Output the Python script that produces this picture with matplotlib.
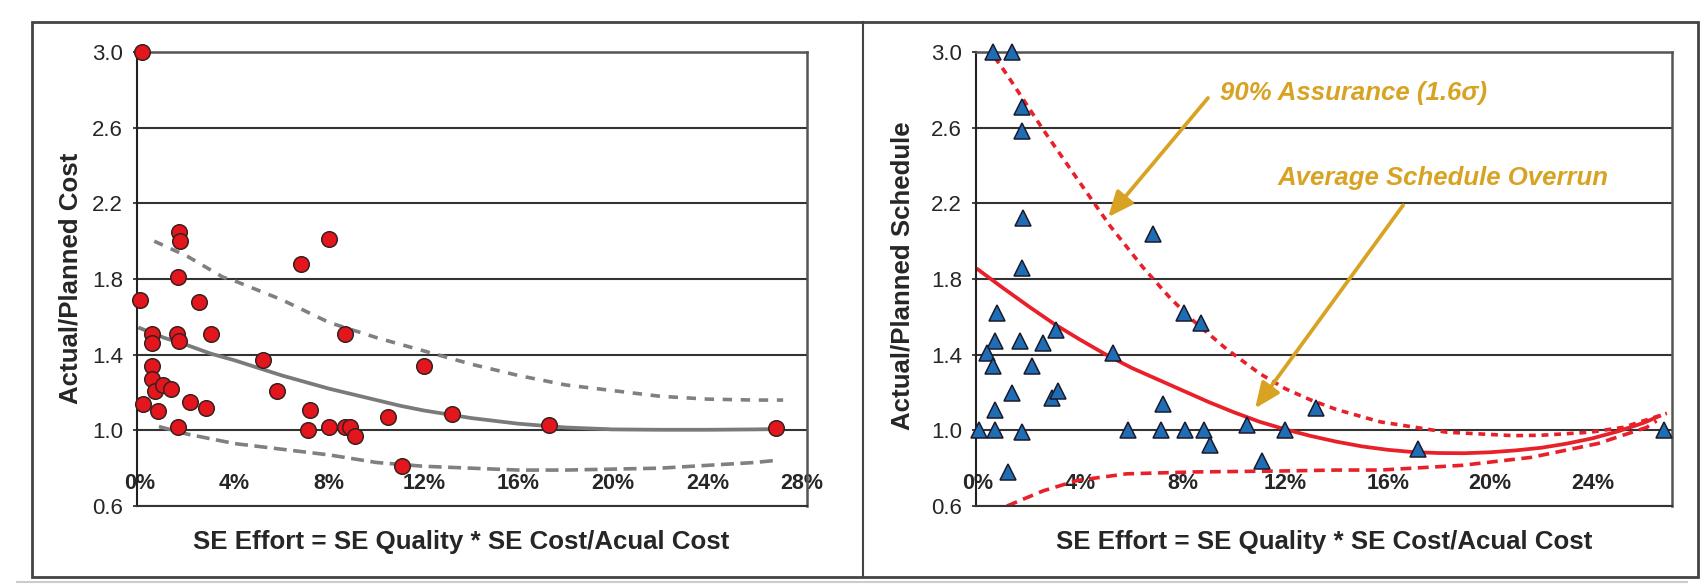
import matplotlib
matplotlib.use("Agg")
import matplotlib.pyplot as plt
from matplotlib.patches import Rectangle
from matplotlib.lines import Line2D

plt.rcParams['font.family'] = ['Liberation Sans', 'DejaVu Sans']

# ---- data (x in % of SE effort) ----
cost_x = [0.1, 1.65, 1.7, 1.6, 6.8, 8.0, 0.0, 2.5, 0.5, 0.5, 1.55, 1.65, 3.0, 8.67,
          5.2, 0.5, 0.5, 0.63, 0.98, 1.3, 0.13, 0.77, 2.1, 2.8, 5.8, 1.6, 7.2, 7.1,
          8.0, 8.67, 8.9, 9.1, 10.5, 11.1, 12.0, 13.2, 17.3, 26.9]
cost_y = [3.0, 2.05, 2.0, 1.81, 1.88, 2.01, 1.69, 1.68, 1.51, 1.46, 1.51, 1.47, 1.51, 1.51,
          1.37, 1.34, 1.27, 1.21, 1.24, 1.22, 1.14, 1.10, 1.15, 1.12, 1.21, 1.02, 1.11, 1.0,
          1.02, 1.02, 1.02, 0.97, 1.07, 0.81, 1.34, 1.085, 1.03, 1.01]

cost_fit_x = [0, 1, 2, 3, 4, 5, 6, 7, 8, 9, 10, 11, 12, 13, 14, 15, 16, 17, 18, 20, 22, 24, 26, 27]
cost_fit_y = [1.54, 1.49, 1.45, 1.405, 1.37, 1.33, 1.29, 1.255, 1.22, 1.19, 1.16, 1.13,
              1.105, 1.085, 1.065, 1.05, 1.035, 1.025, 1.015, 1.005, 1.003, 1.003, 1.005, 1.007]
cost_hi_x = [0.6, 2, 3.5, 4, 6, 8, 10, 12, 14, 16, 18, 20, 22, 24, 26, 27.2]
cost_hi_y = [2.00, 1.92, 1.81, 1.79, 1.69, 1.57, 1.49, 1.42, 1.35, 1.29, 1.24, 1.21, 1.18, 1.165, 1.16, 1.16]
cost_lo_x = [0.8, 2, 4, 6, 8, 10, 12, 14, 16, 18, 20, 22, 24, 26, 26.8]
cost_lo_y = [1.02, 0.98, 0.93, 0.90, 0.87, 0.83, 0.81, 0.80, 0.79, 0.79, 0.795, 0.80, 0.815, 0.83, 0.84]

sched_x = [0.6, 1.33, 1.72, 1.72, 1.75, 6.84, 1.72, 0.73, 0.66, 0.35, 0.6, 0.66, 0.04, 0.66,
           1.17, 1.33, 1.64, 1.72, 2.1, 2.54, 3.05, 2.9, 3.13, 5.27, 5.86, 7.23, 7.15, 8.05,
           8.7, 8.09, 8.83, 9.06, 10.5, 11.1, 12.0, 13.2, 17.2, 26.8]
sched_y = [3.0, 3.0, 2.71, 2.58, 2.12, 2.04, 1.86, 1.62, 1.47, 1.41, 1.34, 1.11, 1.0, 1.0,
           0.78, 1.20, 1.47, 0.99, 1.34, 1.46, 1.53, 1.17, 1.21, 1.41, 1.0, 1.14, 1.0, 1.62,
           1.57, 1.0, 1.0, 0.92, 1.03, 0.84, 1.0, 1.12, 0.90, 1.0]

sched_avg_x = [0, 1, 2, 3, 4, 5, 6, 7, 8, 9, 10, 11, 12, 13, 14, 15, 16, 17, 18, 19, 20,
               21, 22, 23, 24, 25, 26, 26.6]
sched_avg_y = [1.85, 1.75, 1.653, 1.56, 1.478, 1.40, 1.33, 1.27, 1.21, 1.15, 1.095, 1.045,
               1.005, 0.97, 0.94, 0.915, 0.897, 0.885, 0.88, 0.879, 0.884, 0.894, 0.908,
               0.93, 0.958, 0.995, 1.04, 1.075]
sched_hi_x = [0.66, 1.13, 2.54, 3.87, 5.16, 6.45, 7.5, 8.4, 9.7, 11.0, 12.0, 13.0, 14.0,
              15.7, 18.3, 20.9, 22.0, 23.9, 25.2, 26.9]
sched_hi_y = [2.97, 2.88, 2.59, 2.33, 2.08, 1.86, 1.70, 1.58, 1.43, 1.30, 1.22, 1.16, 1.11,
              1.045, 0.99, 0.972, 0.974, 0.99, 1.016, 1.09]
sched_lo_x = [1.13, 2.54, 3.87, 5.8, 8.4, 11.8, 14, 15.7, 18.9, 21.6, 24.2, 26.1, 26.5]
sched_lo_y = [0.60, 0.68, 0.735, 0.77, 0.78, 0.785, 0.79, 0.79, 0.815, 0.857, 0.93, 1.015, 1.05]

yticks = [0.6, 1.0, 1.4, 1.8, 2.2, 2.6, 3.0]
left_xticks = [0, 4, 8, 12, 16, 20, 24, 28]
right_xticks = [0, 4, 8, 12, 16, 20, 24]

xlabel = "SE Effort = SE Quality * SE Cost/Acual Cost"
gold = '#d8a323'
red = '#e8202a'
W, H = 1704, 588

fig = plt.figure(figsize=(W / 100, H / 100), dpi=100)
ax1 = fig.add_axes([137 / W, 82 / H, 670 / W, 454 / H])
ax2 = fig.add_axes([976 / W, 82 / H, 696 / W, 454 / H])


def style_axes(ax, xticks, xlim):
    ax.set_xlim(*xlim)
    ax.set_ylim(0.6, 3.0)
    ax.set_yticks(yticks)
    ax.set_yticklabels([f"{v:.1f}" for v in yticks])
    ax.set_xticks(xticks)
    ax.set_xticklabels([f"{v}%" for v in xticks], fontweight='bold')
    ax.yaxis.grid(True, color='#333333', lw=1.5)
    ax.set_axisbelow(True)
    ax.spines['left'].set_color('#222222')
    ax.spines['left'].set_linewidth(1.5)
    ax.spines['bottom'].set_color('#333333')
    ax.spines['bottom'].set_linewidth(1.5)
    for s in ('top', 'right'):
        ax.spines[s].set_color('#555555')
        ax.spines[s].set_linewidth(1.8)
    ax.tick_params(axis='y', length=3, width=1.2, color='#222222', pad=7,
                   labelsize=16, labelcolor='#262626')
    ax.tick_params(axis='x', length=0, pad=-24, labelsize=15.5, labelcolor='#262626')


# ---- left: cost ----
style_axes(ax1, left_xticks, (-0.13, 28.21))
ax1.plot(cost_fit_x, cost_fit_y, color='#7a7a7a', lw=2.7)
ax1.plot(cost_hi_x, cost_hi_y, color='#808080', lw=2.6, dashes=(2.6, 2.4))
ax1.plot(cost_lo_x, cost_lo_y, color='#808080', lw=2.6, dashes=(3.6, 1.8))
ax1.plot(cost_x, cost_y, 'o', ms=11.2, mfc='#e3161d', mec='#3a2020', mew=1.1,
         clip_on=False, zorder=5)

# ---- right: schedule ----
style_axes(ax2, right_xticks, (-0.08, 27.1))
ax2.plot(sched_avg_x, sched_avg_y, color=red, lw=2.7)
ax2.plot(sched_hi_x, sched_hi_y, color=red, lw=2.6, dashes=(1.9, 1.6))
ax2.plot(sched_lo_x, sched_lo_y, color=red, lw=2.6, dashes=(3.0, 1.8))
ax2.plot(sched_x, sched_y, '^', ms=11.5, mfc='#1f6db5', mec='#1a1a2a', mew=1.1,
         clip_on=False, zorder=5)

ax2.text(9.45, 2.783, "90% Assurance (1.6\u03c3)", color=gold, fontsize=18.5,
         fontweight='bold', fontstyle='italic', ha='left', va='center')
ax2.text(11.68, 2.333, "Average Schedule Overrun", color=gold, fontsize=18.5,
         fontweight='bold', fontstyle='italic', ha='left', va='center')
arrow = dict(arrowstyle='-|>,head_length=0.7,head_width=0.3', color=gold, lw=2.7,
             mutation_scale=22, shrinkA=0, shrinkB=0)
ax2.annotate('', xy=(5.08, 2.127), xytext=(8.98, 2.757), arrowprops=arrow)
ax2.annotate('', xy=(10.82, 1.116), xytext=(16.6, 2.19), arrowprops=arrow)

# axis titles
fig.text(70 / W, 1 - 278 / H, "Actual/Planned Cost", rotation=90, ha='center', va='center',
         fontsize=18.6, fontweight='bold', color='#262626')
fig.text(903 / W, 1 - 276 / H, "Actual/Planned Schedule", rotation=90, ha='center', va='center',
         fontsize=18.6, fontweight='bold', color='#262626')
fig.text(461 / W, 1 - 542 / H, xlabel, ha='center', va='center',
         fontsize=18.6, fontweight='bold', color='#262626')
fig.text(1324 / W, 1 - 542 / H, xlabel, ha='center', va='center',
         fontsize=18.6, fontweight='bold', color='#262626')

# outer frame and panel divider
fig.add_artist(Rectangle((32 / W, 11 / H), 1666 / W, 555 / H, transform=fig.transFigure,
                         fill=False, ec='#444444', lw=2))
fig.add_artist(Line2D([863 / W, 863 / W], [11 / H, 566 / H], transform=fig.transFigure,
                      color='#444444', lw=1.5))
fig.add_artist(Line2D([0.01, 0.99], [6 / H, 6 / H], transform=fig.transFigure,
                      color='#cccccc', lw=1.5))

fig.savefig("out.png", dpi=100)
